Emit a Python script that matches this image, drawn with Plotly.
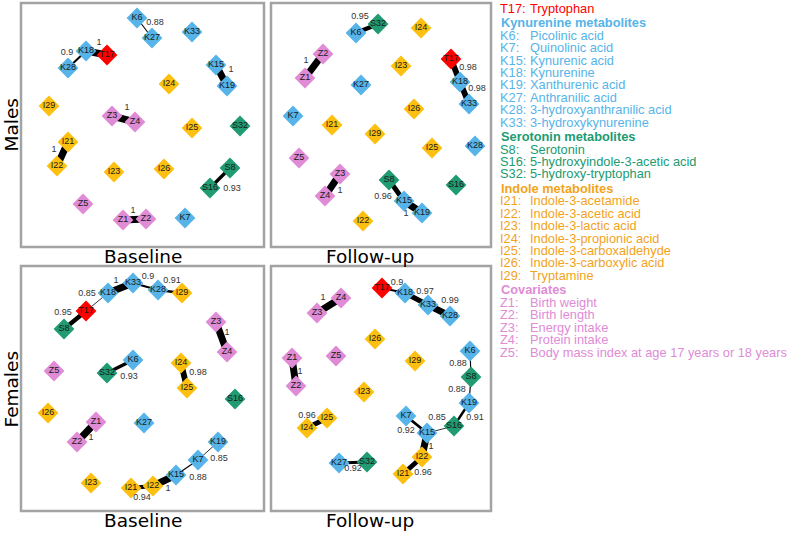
import plotly.graph_objects as go

# ---------------- data ----------------
node_group = {
    "T17": "T",
    "K6": "K", "K7": "K", "K15": "K", "K18": "K", "K19": "K", "K27": "K", "K28": "K", "K33": "K",
    "S8": "S", "S16": "S", "S32": "S",
    "I21": "I", "I22": "I", "I23": "I", "I24": "I", "I25": "I", "I26": "I", "I29": "I",
    "Z1": "Z", "Z2": "Z", "Z3": "Z", "Z4": "Z", "Z5": "Z",
}

# network layouts (layout units, y grows downward)
males_baseline_pos = {
    "K6": (116, 15), "K27": (131, 35), "K33": (171, 29), "K18": (65, 48), "T17": (86, 52),
    "K28": (47, 65), "K15": (195, 62), "K19": (206, 83), "I24": (148, 81), "I29": (28, 103),
    "Z3": (91, 113), "Z4": (114, 119), "I25": (171, 125), "S32": (219, 123), "I21": (47, 139),
    "I22": (36, 163), "I23": (93, 169), "I26": (143, 166), "S8": (209, 165), "S16": (189, 185),
    "Z5": (62, 201), "Z1": (102, 217), "Z2": (125, 216), "K7": (164, 215),
}
males_followup_pos = {
    "K6": (85, 30), "S32": (107, 21), "I24": (150, 25), "Z2": (52, 51), "Z1": (34, 75),
    "I23": (130, 63), "T17": (180, 56), "K18": (189, 79), "K33": (198, 101), "K27": (90, 82),
    "K7": (22, 113), "I26": (143, 106), "I21": (61, 122), "I29": (104, 131), "I25": (161, 145),
    "K28": (204, 143), "Z5": (28, 155), "Z3": (69, 171), "Z4": (54, 193), "S8": (118, 177),
    "S16": (185, 182), "K15": (133, 198), "K19": (151, 210), "I22": (92, 218),
}
females_baseline_pos = {
    "K18": (87, 27), "K33": (112, 17), "K28": (137, 24), "I29": (161, 27), "T17": (65, 45),
    "S8": (43, 63), "Z3": (195, 56), "Z4": (206, 86), "K6": (112, 94), "S32": (86, 107),
    "Z5": (33, 105), "I24": (160, 97), "I25": (166, 122), "S16": (214, 133), "I26": (27, 147),
    "K27": (123, 157), "Z1": (75, 156), "Z2": (56, 176), "K19": (197, 176), "K7": (177, 194),
    "K15": (155, 209), "I23": (70, 217), "I22": (132, 220), "I21": (110, 222),
}
females_followup_pos = {
    "T17": (111, 22), "K18": (134, 27), "K33": (157, 39), "K28": (179, 50), "Z4": (70, 32),
    "Z3": (46, 47), "I26": (104, 73), "Z1": (21, 92), "Z2": (25, 120), "Z5": (65, 90),
    "I29": (144, 95), "K6": (199, 85), "S8": (200, 111), "I23": (93, 126), "K19": (198, 137),
    "K7": (135, 150), "S16": (183, 160), "K15": (156, 167), "I25": (56, 152), "I24": (36, 162),
    "I22": (151, 191), "I21": (132, 208), "K27": (68, 197), "S32": (96, 196),
}

# edges: (node a, node b, correlation)
males_baseline_edges = [
    ("K6", "K27", 0.88), ("K18", "T17", 1.0), ("K28", "K18", 0.9), ("K15", "K19", 1.0),
    ("Z3", "Z4", 1.0), ("I21", "I22", 1.0), ("S8", "S16", 0.93), ("Z1", "Z2", 1.0),
]
males_followup_edges = [
    ("K6", "S32", 0.95), ("Z1", "Z2", 1.0), ("T17", "K18", 0.98), ("K18", "K33", 0.98),
    ("Z3", "Z4", 1.0), ("S8", "K15", 0.96), ("K15", "K19", 1.0),
]
females_baseline_edges = [
    ("K18", "K33", 1.0), ("K33", "K28", 0.9), ("K28", "I29", 0.91), ("T17", "K18", 0.85),
    ("T17", "S8", 0.95), ("Z3", "Z4", 1.0), ("K6", "S32", 0.93), ("I24", "I25", 0.98),
    ("Z1", "Z2", 1.0), ("K19", "K7", 0.85), ("K7", "K15", 0.88), ("K15", "I22", 1.0),
    ("I22", "I21", 0.94),
]
females_followup_edges = [
    ("T17", "K18", 0.9), ("K18", "K33", 0.97), ("K33", "K28", 0.99), ("Z3", "Z4", 1.0),
    ("Z1", "Z2", 1.0), ("K6", "S8", 0.88), ("S8", "K19", 0.88), ("K19", "S16", 0.91),
    ("S16", "K15", 0.85), ("K7", "K15", 0.92), ("K15", "I22", 1.0), ("I22", "I21", 0.96),
    ("I24", "I25", 0.96), ("K27", "S32", 0.92),
]

# edge label anchor points (layout units), same order as edges
males_baseline_label_pos = [(134, 20), (78, 40), (46, 50), (210, 67), (106, 105), (33, 147), (211, 186), (112, 208)]
males_followup_label_pos = [(89, 14), (35, 58), (197, 65), (206, 86), (69, 188), (112, 194), (135, 211)]
females_baseline_label_pos = [(95, 15), (127, 11), (151, 15), (66, 28), (42, 47), (206, 67), (108, 111),
                              (177, 107), (70, 172), (198, 193), (177, 212), (147, 223), (121, 232)]
females_followup_label_pos = [(126, 17), (154, 26), (179, 35), (52, 32), (29, 106), (187, 98), (186, 124),
                              (204, 152), (166, 152), (135, 165), (160, 181), (152, 207), (36, 150), (82, 203)]

row_labels = ["Males", "Females"]
col_labels = ["Baseline", "Follow-up"]

legend_items = [
    ("T", None, [("T17:", "Tryptophan")]),
    ("K", "Kynurenine metabolites", [
        ("K6:", "Picolinic acid"), ("K7:", "Quinolinic acid"), ("K15:", "Kynurenic acid"),
        ("K18:", "Kynurenine"), ("K19:", "Xanthurenic acid"), ("K27:", "Anthranilic acid"),
        ("K28:", "3-hydroxyanthranilic acid"), ("K33:", "3-hydroxykynurenine")]),
    ("S", "Serotonin metabolites", [
        ("S8:", "Serotonin"), ("S16:", "5-hydroxyindole-3-acetic acid"), ("S32:", "5-hydroxy-tryptophan")]),
    ("I", "Indole metabolites", [
        ("I21:", "Indole-3-acetamide"), ("I22:", "Indole-3-acetic acid"), ("I23:", "Indole-3-lactic acid"),
        ("I24:", "Indole-3-propionic acid"), ("I25:", "Indole-3-carboxaldehyde"),
        ("I26:", "Indole-3-carboxylic acid"), ("I29:", "Tryptamine")]),
    ("Z", "Covariates", [
        ("Z1:", "Birth weight"), ("Z2:", "Birth length"), ("Z3:", "Energy intake"),
        ("Z4:", "Protein intake"), ("Z5:", "Body mass index at age 17 years or 18 years")]),
]

# ---------------- styles ----------------
node_colors = {"T": "#FF0000", "K": "#56B4E9", "S": "#209B72", "I": "#FDC010", "Z": "#E08BD6"}
legend_colors = {"T": "#FF0000", "K": "#56B4E9", "S": "#209B72", "I": "#F2A31B", "Z": "#E08BD6"}

W, H = 792, 534
panel_boxes = [  # (x0, x1, y0, y1) in pixels
    (21, 264, 3, 247), (271, 491, 3, 247),
    (21, 264, 266, 511), (271, 491, 266, 511),
]
panels = [
    (males_baseline_pos, males_baseline_edges, males_baseline_label_pos),
    (males_followup_pos, males_followup_edges, males_followup_label_pos),
    (females_baseline_pos, females_baseline_edges, females_baseline_label_pos),
    (females_followup_pos, females_followup_edges, females_followup_label_pos),
]


def edge_width(w):
    return max(0.8, 7.0 * (max(w - 0.84, 0) / 0.16) ** 1.3)


fig = go.Figure()
layout = dict(width=W, height=H, margin=dict(l=0, r=0, t=0, b=0),
              paper_bgcolor="white", plot_bgcolor="white", showlegend=False)
shapes = []
annotations = []

for i, ((pos, edges, lpos), (x0, x1, y0, y1)) in enumerate(zip(panels, panel_boxes), start=1):
    sx = "" if i == 1 else str(i)
    xa, ya = "x" + sx, "y" + sx
    layout["xaxis" + sx] = dict(domain=[x0 / W, x1 / W], range=[0, x1 - x0], visible=False,
                                anchor=ya, fixedrange=True)
    layout["yaxis" + sx] = dict(domain=[1 - y1 / H, 1 - y0 / H], range=[y1 - y0, 0], visible=False,
                                anchor=xa, fixedrange=True)
    shapes.append(dict(type="rect", xref=xa + " domain", yref=ya + " domain", x0=0, x1=1, y0=0, y1=1,
                       line=dict(color="#A3A3A3", width=2.5), layer="above"))
    for (a, b, w) in edges:
        fig.add_trace(go.Scatter(x=[pos[a][0], pos[b][0]], y=[pos[a][1], pos[b][1]], mode="lines",
                                 line=dict(color="black", width=edge_width(w)),
                                 xaxis=xa, yaxis=ya, hoverinfo="skip", cliponaxis=False))
    names = list(pos.keys())
    fig.add_trace(go.Scatter(
        x=[pos[n][0] for n in names], y=[pos[n][1] for n in names], mode="markers+text",
        text=names, textposition="middle center",
        textfont=dict(family="Arial, Liberation Sans", size=9, color="#1a1a1a"),
        marker=dict(symbol="diamond", size=16, color=[node_colors[node_group[n]] for n in names],
                    line=dict(width=0)),
        xaxis=xa, yaxis=ya, cliponaxis=False, hoverinfo="text"))
    fig.add_trace(go.Scatter(
        x=[p[0] for p in lpos], y=[p[1] for p in lpos], mode="text",
        text=["%g" % e[2] for e in edges], textposition="middle center",
        textfont=dict(family="Arial, Liberation Sans", size=9, color="#333333"),
        xaxis=xa, yaxis=ya, cliponaxis=False, hoverinfo="skip"))

# column / row titles
title_font = dict(family="DejaVu Sans", size=18.5, color="black")
for (cx, cy, txt) in [(142.5, 256, col_labels[0]), (370, 256, col_labels[1]),
                      (142.5, 520, col_labels[0]), (370, 520, col_labels[1])]:
    annotations.append(dict(x=cx / W, y=1 - cy / H, xref="paper", yref="paper", text=txt,
                            showarrow=False, xanchor="center", yanchor="middle", font=title_font))
for (cy, txt) in [(125, row_labels[0]), (389, row_labels[1])]:
    annotations.append(dict(x=10.5 / W, y=1 - cy / H, xref="paper", yref="paper", text=txt,
                            textangle=-90, showarrow=False, xanchor="center", yanchor="middle",
                            font=title_font))

# legend as text
leg_font = "Arial, Liberation Sans"
leg_size = 12.8
y = 8.3
line_h = 12.45
first = True
for (g, header, items) in legend_items:
    col = legend_colors[g]
    if header is not None:
        if not first:
            y += 1.9
        annotations.append(dict(x=499 / W, y=1 - y / H, xref="paper", yref="paper",
                                text="<b>%s</b>" % header, showarrow=False, xanchor="left",
                                yanchor="middle", font=dict(family=leg_font, size=leg_size, color=col)))
        y += line_h
    for code, desc in items:
        annotations.append(dict(x=498 / W, y=1 - y / H, xref="paper", yref="paper", text=code,
                                showarrow=False, xanchor="left", yanchor="middle",
                                font=dict(family=leg_font, size=leg_size, color=col)))
        annotations.append(dict(x=528 / W, y=1 - y / H, xref="paper", yref="paper", text=desc,
                                showarrow=False, xanchor="left", yanchor="middle",
                                font=dict(family=leg_font, size=leg_size, color=col)))
        y += line_h
    first = False

layout["shapes"] = shapes
layout["annotations"] = annotations
fig.update_layout(**layout)
fig.write_html("out.html", config={"displayModeBar": False},
               post_script="document.body.style.margin='0';document.body.style.padding='0';"
                           "document.documentElement.style.overflow='hidden';")
